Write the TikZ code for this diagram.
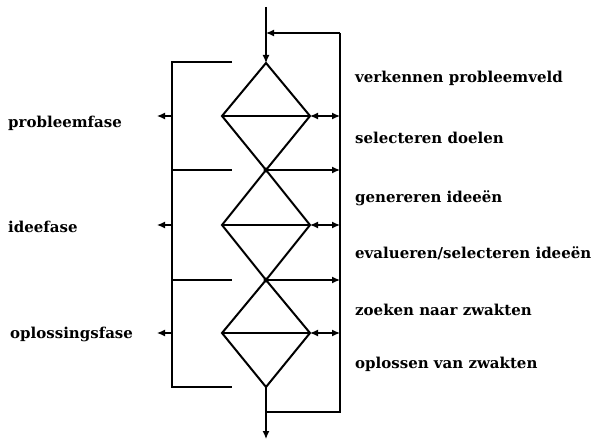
\documentclass[tikz,border=0pt]{standalone}
\usepackage{fontspec}
\setmainfont{DejaVu Serif}
\usetikzlibrary{arrows.meta}
\tikzset{
  dia/.style={line width=2pt},
  thin/.style={line width=1.3pt},
  tip/.tip={Latex[length=8pt,width=7pt]},
  arr/.style={-tip},
  darr/.style={tip-tip},
  lbl/.style={anchor=base west, inner sep=0pt, font=\fontsize{15}{17}\selectfont\bfseries},
  dot/.style={circle, fill, inner sep=0pt, minimum size=5pt}
}
\begin{document}
\begin{tikzpicture}[x=1pt,y=-1pt]
\useasboundingbox (0,0) rectangle (593,441);
% diamond vertices
\coordinate (t0) at (266,63);
\coordinate (l1) at (222,116); \coordinate (r1) at (310,116);
\coordinate (t1) at (266,170);
\coordinate (l2) at (222,225); \coordinate (r2) at (310,225);
\coordinate (t2) at (266,280);
\coordinate (l3) at (222,333); \coordinate (r3) at (310,333);
\coordinate (t3) at (266,387);
% right rail
\coordinate (rtop) at (340,33);
\coordinate (rb) at (340,412);
\coordinate (fb) at (266,33);
\coordinate (bb) at (266,412);
\coordinate (in) at (266,7);
\coordinate (out) at (266,439);
\coordinate (q1) at (340,116); \coordinate (q2) at (340,225); \coordinate (q3) at (340,333);
\coordinate (j1) at (340,170); \coordinate (j2) at (340,280);
% left bracket
\coordinate (b0) at (172,62); \coordinate (b0e) at (232,62);
\coordinate (b1) at (172,170); \coordinate (b1e) at (232,170);
\coordinate (b2) at (172,280); \coordinate (b2e) at (232,280);
\coordinate (b3) at (172,387); \coordinate (b3e) at (232,387);
\coordinate (p1) at (172,116); \coordinate (a1) at (157,116);
\coordinate (p2) at (172,225); \coordinate (a2) at (157,225);
\coordinate (p3) at (172,333); \coordinate (a3) at (157,333);

% diamonds
\draw[dia,line join=miter] (t0) -- (r1) -- (t1) -- (l1) -- cycle;
\draw[dia,line join=miter] (t1) -- (r2) -- (t2) -- (l2) -- cycle;
\draw[dia,line join=miter] (t2) -- (r3) -- (t3) -- (l3) -- cycle;
\draw[dia] (l1) -- (r1);
\draw[dia] (l2) -- (r2);
\draw[dia] (l3) -- (r3);

% input / output and feedback
\draw[thin,arr] (in) -- (t0);
\draw[thin,arr] (rtop) -- (fb);
\draw[thin] (rtop) -- (rb) -- (bb);
\draw[thin,arr] (t3) -- (out);

% right arrows
\draw[thin,darr] (r1) -- (q1);
\draw[thin,darr] (r2) -- (q2);
\draw[thin,darr] (r3) -- (q3);
\node[dot] (d1) at (t1) {};
\node[dot] (d2) at (t2) {};
\draw[thin,arr] (d1.center) -- (j1);
\draw[thin,arr] (d2.center) -- (j2);

% left bracket
\draw[thin] (b0e) -- (b0) -- (b3) -- (b3e);
\draw[thin] (b1) -- (b1e);
\draw[thin] (b2) -- (b2e);
\draw[thin,arr] (p1) -- (a1);
\draw[thin,arr] (p2) -- (a2);
\draw[thin,arr] (p3) -- (a3);

% labels
\node[lbl] (L1) at (8,127) {probleemfase};
\node[lbl] (L2) at (8,232) {ideefase};
\node[lbl] (L3) at (10,338) {oplossingsfase};
\node[lbl] (R1) at (355,83) {verkennen probleemveld};
\node[lbl] (R2) at (355,143) {selecteren doelen};
\node[lbl] (R3) at (355,202) {genereren ideeën};
\node[lbl] (R4) at (355,258) {evalueren/selecteren ideeën};
\node[lbl] (R5) at (355,315) {zoeken naar zwakten};
\node[lbl] (R6) at (355,368) {oplossen van zwakten};
\end{tikzpicture}
\end{document}
